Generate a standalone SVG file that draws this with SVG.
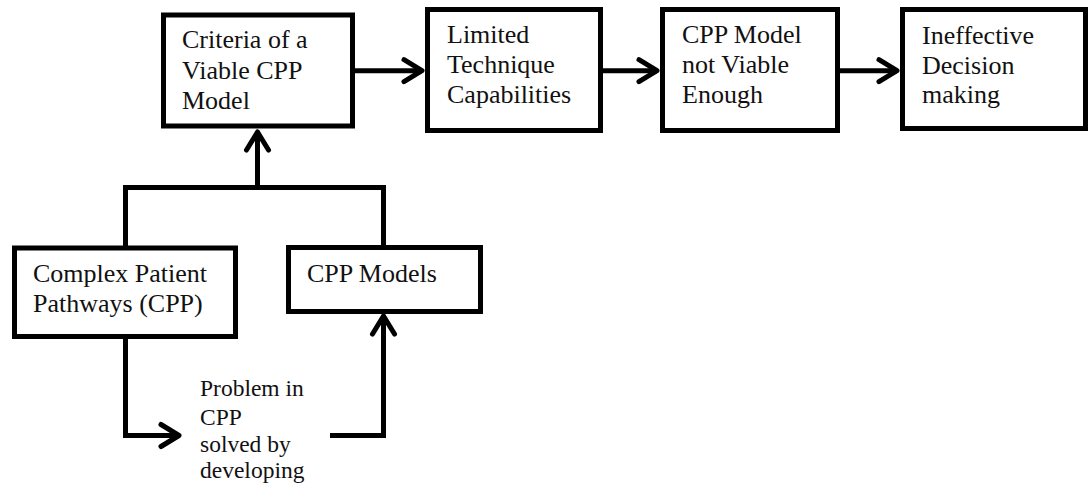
<svg xmlns="http://www.w3.org/2000/svg" width="1090" height="483" viewBox="0 0 1090 483">
<style>
.box{fill:#fff;stroke:#000;stroke-width:5}
.lbl{font-family:"Liberation Serif","Times New Roman",serif;font-size:26px;fill:#111}
.sm{font-size:23.5px}
.con{fill:none;stroke:#000;stroke-width:5;stroke-linejoin:miter}
</style>
<defs>
<marker id="arr" markerUnits="userSpaceOnUse" orient="auto" overflow="visible" markerWidth="1" markerHeight="1" refX="0" refY="0">
<path d="M-18,-11 L0,0 L-18,11" fill="none" stroke="#000" stroke-width="5" stroke-linejoin="round" stroke-linecap="round"/>
</marker>
</defs>
<rect width="1090" height="483" fill="#fff"/>
<g id="connectors">
<path class="con" d="M355,70.7 H422" marker-end="url(#arr)"/>
<path class="con" d="M603,70.7 H657" marker-end="url(#arr)"/>
<path class="con" d="M840,70.7 H897" marker-end="url(#arr)"/>
<path class="con" d="M257.5,187.5 V132" marker-end="url(#arr)"/>
<path class="con" d="M125.5,248 V187.5 H383.5 V247"/>
<path class="con" d="M125.5,338 V435.5 H179" marker-end="url(#arr)"/>
<path class="con" d="M330,435.5 H383.5 V316" marker-end="url(#arr)"/>
</g>
<g id="criteria">
<rect class="box" x="163.5" y="15" width="189" height="111"/>
<text class="lbl" x="182" y="48">Criteria of a</text>
<text class="lbl" x="182" y="79">Viable CPP</text>
<text class="lbl" x="182" y="109">Model</text>
</g>
<g id="limited">
<rect class="box" x="427.5" y="9.5" width="173" height="121"/>
<text class="lbl" x="447" y="43">Limited</text>
<text class="lbl" x="447" y="73">Technique</text>
<text class="lbl" x="447" y="103">Capabilities</text>
</g>
<g id="notviable">
<rect class="box" x="662.5" y="9.5" width="175" height="121"/>
<text class="lbl" x="682" y="43">CPP Model</text>
<text class="lbl" x="682" y="73">not Viable</text>
<text class="lbl" x="682" y="103">Enough</text>
</g>
<g id="ineffective">
<rect class="box" x="902.5" y="9.5" width="183" height="119"/>
<text class="lbl" x="922" y="44">Ineffective</text>
<text class="lbl" x="922" y="74">Decision</text>
<text class="lbl" x="922" y="103">making</text>
</g>
<g id="complex">
<rect class="box" x="14.5" y="248" width="221" height="88.5"/>
<text class="lbl" x="33" y="282">Complex Patient</text>
<text class="lbl" x="33" y="312">Pathways (CPP)</text>
</g>
<g id="models">
<rect class="box" x="288.5" y="247.5" width="192" height="64"/>
<text class="lbl" x="307" y="282">CPP Models</text>
</g>
<g id="problem">
<text class="lbl sm" x="200" y="396">Problem in</text>
<text class="lbl sm" x="200" y="425">CPP</text>
<text class="lbl sm" x="200" y="452">solved by</text>
<text class="lbl sm" x="200" y="478">developing</text>
</g>
</svg>
